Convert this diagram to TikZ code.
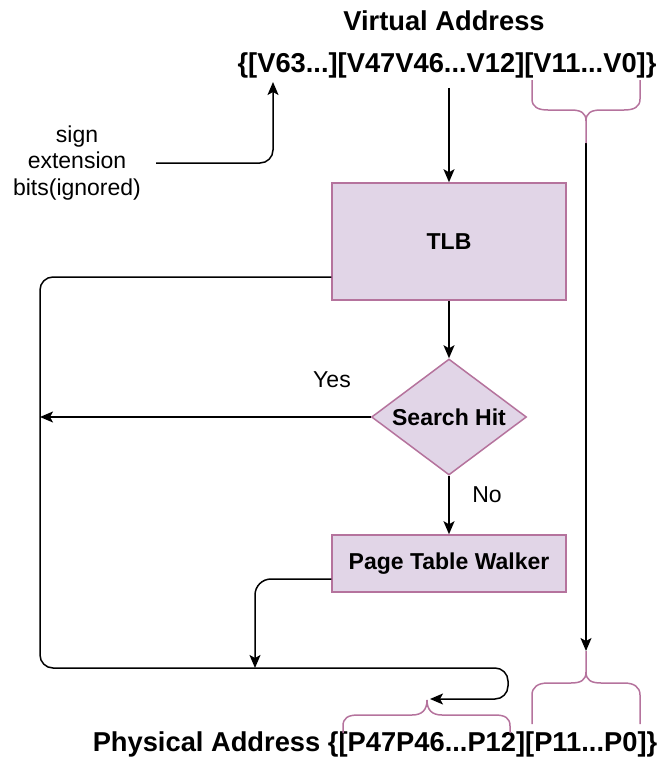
\documentclass[tikz,border=0pt]{standalone}
\usepackage{fontspec}
\setmainfont{Liberation Sans}
\usetikzlibrary{shapes.geometric,arrows.meta}
\definecolor{boxfill}{HTML}{E1D5E7}
\definecolor{boxline}{HTML}{B5739D}
\begin{document}
\begin{tikzpicture}[x=1pt,y=-1pt,
  conn/.style={line width=1.5pt, draw=black, rounded corners=13pt},
  arr/.style={conn, -{Stealth[length=13pt,width=11pt,inset=3pt]}},
  stepbox/.style={rectangle, draw=boxline, fill=boxfill, line width=1.5pt,
    minimum width=234pt, inner sep=0pt,
    font=\fontsize{23}{27}\selectfont\bfseries},
  decision/.style={diamond, draw=boxline, fill=boxfill, line width=1.5pt,
    minimum width=155pt, minimum height=116pt, aspect=1.34, inner sep=0pt,
    font=\fontsize{23}{27}\selectfont\bfseries},
  addr/.style={inner sep=0pt, font=\fontsize{27.3}{31}\selectfont\bfseries},
  note/.style={inner sep=0pt, align=center, font=\fontsize{23}{26.5}\selectfont},
  brace/.style={draw=boxline, line width=1.5pt}]

\useasboundingbox (0,0) rectangle (659,758);

% address labels
\node[addr, anchor=base] (va) at (444,30) {Virtual Address};
\node[addr, anchor=base] (vbits) at (447,72) {\{[V63...][V47V46...V12][V11...V0]\}};
\node[addr, anchor=base] (pa) at (375,751) {Physical Address \{[P47P46...P12][P11...P0]\}};

% flow elements
\node[stepbox, minimum height=117pt] (tlb) at (449,241.5) {TLB};
\node[decision] (hit) at (449,417) {Search Hit};
\node[stepbox, minimum height=57pt] (ptw) at (449,563.5) {Page Table Walker};

\node[note] (sign) at (77,163) {sign\\extension\\bits(ignored)};
\node[note] (yes) at (332,380) {Yes};
\node[note] (no) at (487,495) {No};

% named points of the connectors
\coordinate (v63) at (273,82);
\coordinate (hitend) at (40,417);
\coordinate (loopA) at (40,277);
\coordinate (loopB) at (40,668);
\coordinate (loopC) at (508,668);
\coordinate (loopD) at (508,699);
\coordinate (ptip) at (430,699);
\coordinate (merge) at (255,668);
\coordinate (vtail) at (586,143);
\coordinate (otip) at (586,651);

% connectors
\draw[arr] (vbits.south -| tlb.north) ++(0,10) -- (tlb.north);
\draw[arr] ([xshift=15pt]sign.east) -| (v63);
\draw[arr] (tlb.south) -- (hit.north);
\draw[arr] (hit.south) -- (ptw.north);
\draw[arr] (hit.west) -- (hitend);
\draw[arr] ([yshift=-35.5pt]tlb.west) -- (loopA) -- (loopB) -- (loopC) -- (loopD) -- (ptip);
\draw[arr, rounded corners=16pt] ([yshift=-15.5pt]ptw.west) -| (merge);
\draw[arr] (vtail) -- (otip);

% brace under the page offset bits of the virtual address
\draw[brace] (532,80) -- (532,99) .. controls (532,107) and (538,110) .. (548,110)
  -- (571,110) .. controls (581,110) and (586,113) .. (586,121) -- (vtail);
\draw[brace] (640,80) -- (640,99) .. controls (640,107) and (634,110) .. (624,110)
  -- (601,110) .. controls (591,110) and (586,113) .. (586,121);

% brace over the page offset bits of the physical address
\draw[brace] (otip) -- (586,672) .. controls (586,680) and (581,683) .. (571,683)
  -- (548,683) .. controls (538,683) and (532,687) .. (532,695) -- (532,724);
\draw[brace] (586,672) .. controls (586,680) and (591,683) .. (601,683)
  -- (624,683) .. controls (634,683) and (640,687) .. (640,695) -- (640,724);

% brace over the frame number bits of the physical address
\draw[brace] (427,700) .. controls (427,710) and (422,715) .. (412,715)
  -- (358,715) .. controls (348,715) and (343,718) .. (343,726) -- (343,733);
\draw[brace] (427,700) .. controls (427,710) and (432,715) .. (442,715)
  -- (495,715) .. controls (505,715) and (510,718) .. (510,726) -- (510,733);
\end{tikzpicture}
\end{document}
